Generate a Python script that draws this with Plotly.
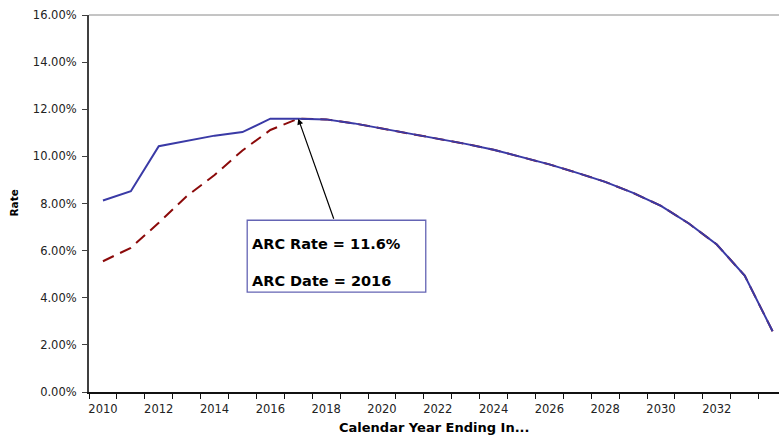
import plotly.graph_objects as go

# ---- data (rates in percent) ----
years = list(range(2010, 2035))
rate_solid = [8.13, 8.52, 10.43, 10.66, 10.88, 11.03, 11.60, 11.60, 11.57, 11.40,
              11.18, 10.97, 10.76, 10.53, 10.28, 9.97, 9.66, 9.30, 8.92, 8.45,
              7.90, 7.15, 6.26, 4.94, 2.58]
rate_dashed = [5.55, 6.12, 7.18, 8.31, 9.21, 10.25, 11.12, 11.60, 11.57, 11.40,
               11.18, 10.97, 10.76, 10.53, 10.28, 9.97, 9.66, 9.30, 8.92, 8.45,
               7.90, 7.15, 6.26, 4.94, 2.58]
x_tick_years = list(range(2010, 2033, 2))
x_tick_labels = [str(y) for y in x_tick_years]
y_tick_vals = [0, 0.02, 0.04, 0.06, 0.08, 0.10, 0.12, 0.14, 0.16]
arc_year = 2017
arc_rate = 11.6
arc_text = ["ARC Rate = 11.6%", "ARC Date = 2016"]

fig = go.Figure()
fig.add_trace(go.Scatter(
    x=years, y=[v / 100 for v in rate_dashed], mode="lines",
    line=dict(color="#8b0a0a", width=2, dash="12px,7px"), showlegend=False))
fig.add_trace(go.Scatter(
    x=years, y=[v / 100 for v in rate_solid], mode="lines",
    line=dict(color="#3a3aa6", width=2), showlegend=False))

tick_font = dict(family="DejaVu Sans", size=11.5, color="#222222")

fig.update_layout(
    width=779, height=436,
    margin=dict(l=89, r=0, t=15, b=44),
    paper_bgcolor="white", plot_bgcolor="white",
    xaxis=dict(
        range=[2009.5, 2034.23], showgrid=False, zeroline=False,
        showline=True, linecolor="#111111", linewidth=1.5,
        tickmode="array", tickvals=x_tick_years, ticktext=x_tick_labels,
        ticks="", tickfont=tick_font, ticklabelstandoff=5,
        minor=dict(tick0=2009.5, dtick=1, ticks="outside", ticklen=5,
                   tickcolor="#111111", tickwidth=1, showgrid=False),
    ),
    yaxis=dict(
        range=[0, 0.16], showgrid=False, zeroline=False,
        showline=True, linecolor="#404040", linewidth=2,
        tickmode="array", tickvals=y_tick_vals, tickformat=".2%",
        ticks="outside", ticklen=5, tickcolor="#404040", tickwidth=1,
        tickfont=tick_font, ticklabelstandoff=3,
    ),
)

# plot area top border
fig.add_shape(type="line", xref="paper", yref="paper", x0=0, x1=1, y0=1, y1=1,
              line=dict(color="#8a8a8a", width=1))

# annotation box
fig.add_shape(type="rect", xref="x", yref="y",
              x0=2015.17, x1=2021.57, y0=0.0424, y1=0.0729,
              line=dict(color="#6464b4", width=1.3), fillcolor="white", layer="above")

# arrow to ARC point
fig.add_annotation(x=arc_year, y=arc_rate / 100, ax=2018.29, ay=0.0729,
                   xref="x", yref="y", axref="x", ayref="y", text="",
                   showarrow=True, arrowhead=2, arrowsize=1.0, arrowwidth=1.2,
                   arrowcolor="#000000", standoff=0)

ann_font = dict(family="DejaVu Sans", size=14.5, color="#000000")
fig.add_annotation(x=2015.28, y=0.0630, xref="x", yref="y", text="<b>%s</b>" % arc_text[0],
                   showarrow=False, xanchor="left", yanchor="middle", font=ann_font)
fig.add_annotation(x=2015.28, y=0.0473, xref="x", yref="y", text="<b>%s</b>" % arc_text[1],
                   showarrow=False, xanchor="left", yanchor="middle", font=ann_font)

# axis titles
fig.add_annotation(x=0.5, y=0, xref="paper", yref="paper", yshift=-35,
                   text="<b>Calendar Year Ending In...</b>", showarrow=False,
                   xanchor="center", yanchor="middle",
                   font=dict(family="DejaVu Sans", size=13, color="#000000"))
fig.add_annotation(x=0, y=0.5, xref="paper", yref="paper", xshift=-76,
                   text="<b>Rate</b>", showarrow=False, textangle=-90,
                   xanchor="center", yanchor="middle",
                   font=dict(family="DejaVu Sans", size=10.5, color="#000000"))

fig.write_html("out.html", config={"displayModeBar": False},
               post_script="document.body.style.margin='0';document.body.style.overflow='hidden';")
